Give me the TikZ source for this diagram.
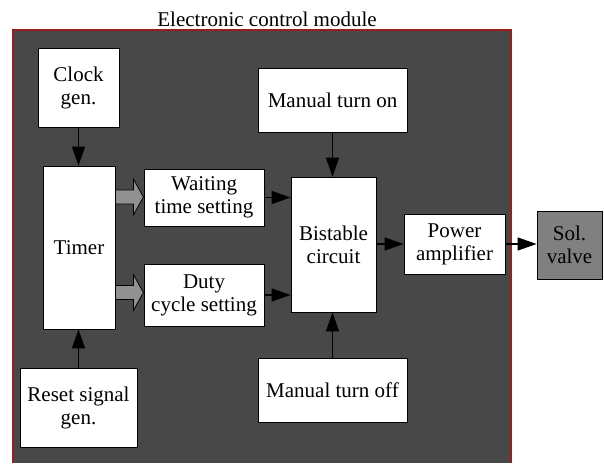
\documentclass[tikz,border=0pt]{standalone}
\usepackage{fontspec}
\setmainfont{Liberation Serif}
\newfontfamily\lserif{Liberation Serif}
\usetikzlibrary{arrows.meta,calc}
\definecolor{bgdark}{RGB}{72,72,72}
\definecolor{frame}{RGB}{155,30,30}
\definecolor{blockgray}{RGB}{145,145,145}
\definecolor{valvegray}{RGB}{128,128,128}
\tikzset{
  box/.style={draw=black, line width=0.8pt, fill=white, inner sep=2pt, align=center,
    font=\lserif\fontsize{21}{23}\selectfont},
  arr/.style={line width=1.4pt, -{Triangle[length=19pt,width=13pt]}},
  blockarrow/.style={draw=black, line width=0.8pt, fill=blockgray, line join=miter},
}
\newcommand{\bx}[6]{\node[box,#6, minimum width=#3pt, minimum height=#4pt] (#5) at (#1,#2)}
\begin{document}
\begin{tikzpicture}[x=1pt,y=-1pt]
\useasboundingbox (0,0) rectangle (604,463);
\fill[white] (0,0) rectangle (604,463);
% outer module
\fill[bgdark] (13,30) rectangle (511,463);
\draw[frame, line width=1.1pt] (13,463) -- (13,30) -- (511,30) -- (511,463);
\node[font=\lserif\fontsize{21}{22}\selectfont, inner sep=0pt] (title) at (267,19) {Electronic control module};
% boxes
\bx{78.5}{87.5}{81}{79}{clock}{} {Clock\\gen.};
\bx{332.5}{100}{149}{64}{mon}{} {Manual turn on};
\bx{79}{247.5}{72}{163}{timer}{} {Timer};
\bx{204}{197.5}{120}{57}{wait}{} {Waiting\\time setting};
\bx{204}{295}{120}{62}{duty}{} {Duty\\cycle setting};
\bx{333.5}{244.5}{85}{135}{bist}{} {Bistable\\circuit};
\bx{454.5}{244}{101}{60}{pow}{} {Power\\amplifier};
\bx{569.5}{245}{65}{68}{sol}{fill=valvegray} {Sol.\\valve};
\bx{78.5}{407.5}{117}{79}{reset}{} {Reset signal\\gen.};
\bx{332.5}{390}{149}{64}{moff}{} {Manual turn off};
% thin arrows
\draw[arr] (clock.south) -- (clock.south |- timer.north);
\draw[arr] (reset.north) -- (reset.north |- timer.south);
\draw[arr] (mon.south) -- (mon.south |- bist.north);
\draw[arr] (moff.north) -- (moff.north |- bist.south);
\draw[arr] (wait.east) -- (wait.east -| bist.west);
\draw[arr] (duty.east) -- (duty.east -| bist.west);
\draw[arr] (bist.east |- pow.west) -- (pow.west);
\draw[arr] (pow.east) -- (pow.east -| sol.west);
% block arrows
\coordinate (ba1) at ($(timer.east |- wait.west)+(0,-0.5)$);
\coordinate (ba2) at ($(timer.east |- duty.west)+(0,-2.5)$);
\draw[blockarrow] (ba1) ++(0,-7) -- ++(18,0) -- ++(0,-11) -- ++(10,18) -- ++(-10,18) -- ++(0,-11) -- ++(-18,0) -- cycle;
\draw[blockarrow] (ba2) ++(0,-7) -- ++(18,0) -- ++(0,-11) -- ++(10,18) -- ++(-10,18) -- ++(0,-11) -- ++(-18,0) -- cycle;
\end{tikzpicture}
\end{document}
